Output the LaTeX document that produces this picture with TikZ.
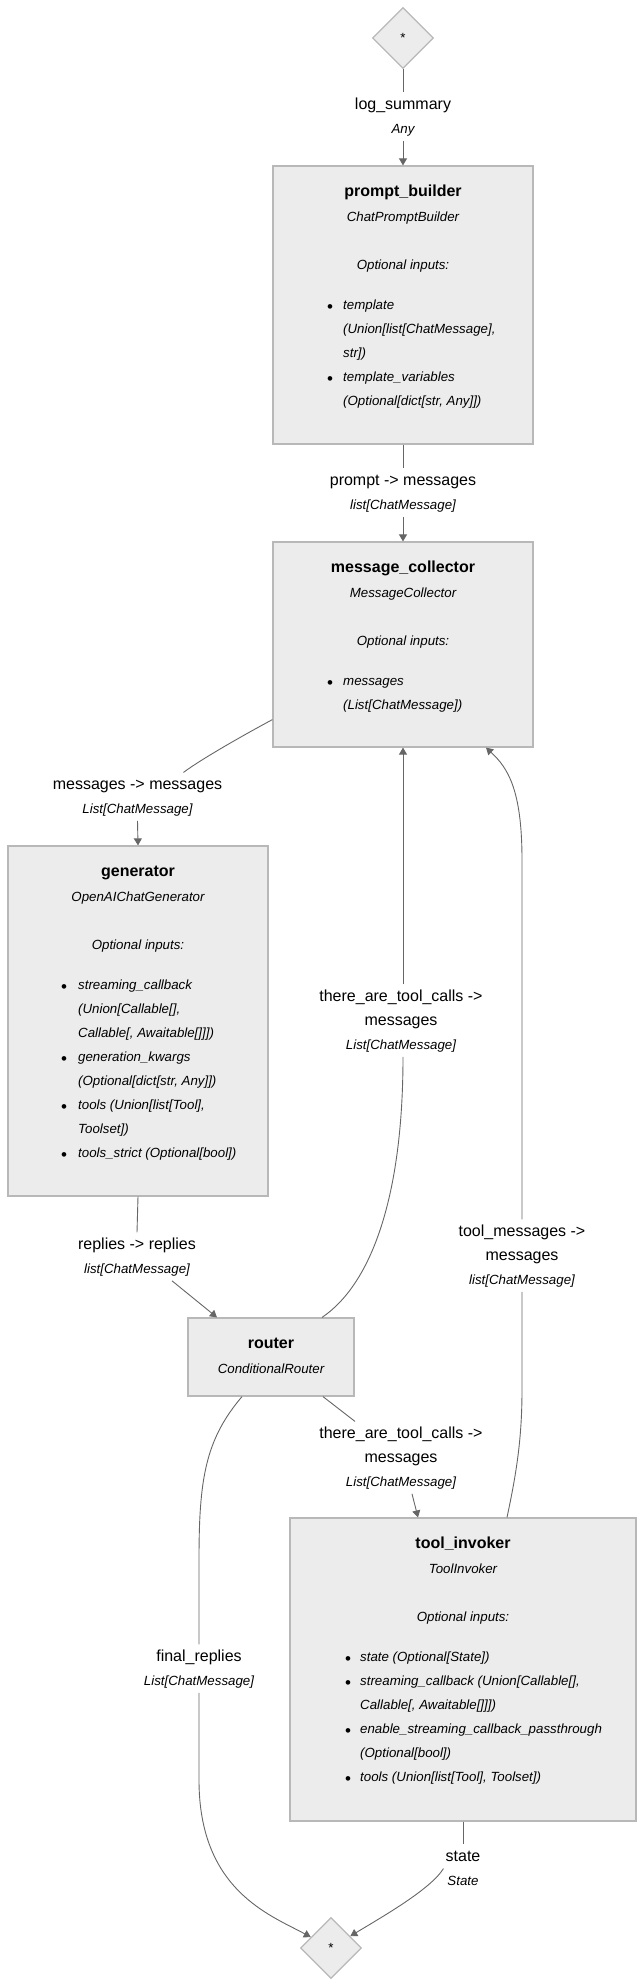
\documentclass[tikz,border=0pt]{standalone}
\usepackage{fontspec}
\setmainfont{Liberation Sans}
\usetikzlibrary{arrows.meta,shapes.geometric}
\definecolor{boxfill}{HTML}{ECECEC}
\definecolor{boxline}{HTML}{B8B8B8}
\definecolor{edgecol}{HTML}{666666}
\newcommand{\edgetype}[1]{{\fontsize{13.3}{24}\selectfont\itshape #1}}

\begin{document}
\begin{tikzpicture}[x=1pt, y=-1pt,
		comp/.style={draw=boxline, fill=boxfill, line width=1.2pt, inner sep=0pt},
		endpt/.style={diamond, draw=boxline, fill=boxfill, line width=1.2pt, inner sep=0pt, minimum width=61pt, minimum height=61pt, font=\fontsize{13.3}{16}\selectfont},
		ctitle/.style={anchor=base, inner sep=0pt, font=\fontsize{16}{24}\selectfont\bfseries},
		cls/.style={anchor=base, inner sep=0pt, font=\fontsize{13.3}{24}\selectfont\itshape},
		inp/.style={anchor=base west, inner sep=0pt, font=\fontsize{13.3}{24}\selectfont\itshape},
		bul/.style={anchor=base, inner sep=0pt, yshift=-2.5pt, font=\fontsize{17}{24}\selectfont},
		elbl/.style={anchor=north, align=center, inner xsep=2pt, inner ysep=0pt, font=\fontsize{16}{24}\selectfont},
		link/.style={draw=edgecol, line width=0.9pt},
		arr/.style={link, -{Triangle[length=7pt, width=8pt]}}]
		\useasboundingbox (0,0) rectangle (644,1986);

		% components
		\node[endpt] (star_in) at (403,38) {*};
		\node[comp, minimum width=260pt, minimum height=278pt] (prompt_builder) at (403,305) {};
		\node[comp, minimum width=260pt, minimum height=205pt] (message_collector) at (403,644.5) {};
		\node[comp, minimum width=260pt, minimum height=350pt] (generator) at (138,1021) {};
		\node[comp, minimum width=166pt, minimum height=78pt] (router) at (271,1357) {};
		\node[comp, minimum width=346pt, minimum height=303pt] (tool_invoker) at (463,1669.5) {};
		\node[endpt] (star_out) at (331,1948) {*};

		% prompt_builder
		\node[ctitle] (pb_title) at (403,196.6) {prompt\_builder};
		\node[cls] (pb_cls) at (403,221.5) {ChatPromptBuilder};
		\node[cls] (pb_opt) at (403,269.5) {Optional inputs:};
		\node[bul] (pb_b1) at (330,309.5) {\textbullet};
		\node[inp] (pb_i1) at (343,309.5) {template};
		\node[inp] (pb_i2) at (343,333.5) {(Union[list[ChatMessage],};
		\node[inp] (pb_i3) at (343,357.5) {str])};
		\node[bul] (pb_b2) at (330,381.5) {\textbullet};
		\node[inp] (pb_i4) at (343,381.5) {template\_variables};
		\node[inp] (pb_i5) at (343,405.5) {(Optional[dict[str, Any]])};

		% message_collector
		\node[ctitle] (mc_title) at (403,572.6) {message\_collector};
		\node[cls] (mc_cls) at (403,597.5) {MessageCollector};
		\node[cls] (mc_opt) at (403,645.5) {Optional inputs:};
		\node[bul] (mc_b1) at (330,685.5) {\textbullet};
		\node[inp] (mc_i1) at (343,685.5) {messages};
		\node[inp] (mc_i2) at (343,709.5) {(List[ChatMessage])};

		% generator
		\node[ctitle] (gen_title) at (138,876.6) {generator};
		\node[cls] (gen_cls) at (138,901.5) {OpenAIChatGenerator};
		\node[cls] (gen_opt) at (138,949.5) {Optional inputs:};
		\node[bul] (gen_b1) at (64,989.5) {\textbullet};
		\node[inp] (gen_i1) at (78,989.5) {streaming\_callback};
		\node[inp] (gen_i2) at (78,1013.5) {(Union[Callable[],};
		\node[inp] (gen_i3) at (78,1037.5) {Callable[, Awaitable[]]])};
		\node[bul] (gen_b2) at (64,1061.5) {\textbullet};
		\node[inp] (gen_i4) at (78,1061.5) {generation\_kwargs};
		\node[inp] (gen_i5) at (78,1085.5) {(Optional[dict[str, Any]])};
		\node[bul] (gen_b3) at (64,1109.5) {\textbullet};
		\node[inp] (gen_i6) at (78,1109.5) {tools (Union[list[Tool],};
		\node[inp] (gen_i7) at (78,1133.5) {Toolset])};
		\node[bul] (gen_b4) at (64,1157.5) {\textbullet};
		\node[inp] (gen_i8) at (78,1157.5) {tools\_strict (Optional[bool])};

		% router
		\node[ctitle] (rt_title) at (271,1348.6) {router};
		\node[cls] (rt_cls) at (271,1373.5) {ConditionalRouter};

		% tool_invoker
		\node[ctitle] (ti_title) at (463,1548.6) {tool\_invoker};
		\node[cls] (ti_cls) at (463,1573.5) {ToolInvoker};
		\node[cls] (ti_opt) at (463,1621.5) {Optional inputs:};
		\node[bul] (ti_b1) at (348,1661.5) {\textbullet};
		\node[inp] (ti_i1) at (360,1661.5) {state (Optional[State])};
		\node[bul] (ti_b2) at (348,1685.5) {\textbullet};
		\node[inp] (ti_i2) at (360,1685.5) {streaming\_callback (Union[Callable[],};
		\node[inp] (ti_i3) at (360,1709.5) {Callable[, Awaitable[]]])};
		\node[bul] (ti_b3) at (348,1733.5) {\textbullet};
		\node[inp] (ti_i4) at (360,1733.5) {enable\_streaming\_callback\_passthrough};
		\node[inp] (ti_i5) at (360,1757.5) {(Optional[bool])};
		\node[bul] (ti_b4) at (348,1781.5) {\textbullet};
		\node[inp] (ti_i6) at (360,1781.5) {tools (Union[list[Tool], Toolset])};

		% edge labels
		\node[elbl] (l_log) at (403,92.4) {\strut log\_summary\\\edgetype{Any}\strut};
		\node[elbl] (l_prompt) at (403,468.4) {\strut prompt -> messages\\\edgetype{list[ChatMessage]}\strut};
		\node[elbl] (l_gen_in) at (137.5,772.4) {\strut messages -> messages\\\edgetype{List[ChatMessage]}\strut};
		\node[elbl] (l_replies) at (137,1232.4) {\strut replies -> replies\\\edgetype{list[ChatMessage]}\strut};
		\node[elbl] (l_loop) at (401,984.4) {\strut there\_are\_tool\_calls ->\\messages\\\edgetype{List[ChatMessage]}\strut};
		\node[elbl] (l_toolmsg) at (522,1219.4) {\strut tool\_messages ->\\messages\\\edgetype{list[ChatMessage]}\strut};
		\node[elbl] (l_tools) at (401,1421.4) {\strut there\_are\_tool\_calls ->\\messages\\\edgetype{List[ChatMessage]}\strut};
		\node[elbl] (l_final) at (199,1644.4) {\strut final\_replies\\\edgetype{List[ChatMessage]}\strut};
		\node[elbl] (l_state) at (463,1844.4) {\strut state\\\edgetype{State}\strut};

		% connectors
		\draw[link] (star_in) -- (l_log);
		\draw[arr] (l_log) -- (prompt_builder);
		\draw[link] (prompt_builder) -- (l_prompt);
		\draw[arr] (l_prompt) -- (message_collector);
		\draw[link] ([yshift=28pt]message_collector.south west) .. controls (240,737) and (200,760) .. ([xshift=46pt]l_gen_in.north);
		\draw[arr] (l_gen_in.south) -- (generator.north);
		\draw[link] (generator.south) -- (l_replies.north);
		\draw[arr] ([xshift=35pt]l_replies.south) -- ([xshift=-54pt]router.north);
		\draw[link] ([xshift=51pt]router.north) .. controls (370,1285) and (403,1200) .. (l_loop.south -| message_collector.south);
		\draw[arr] (l_loop.north -| message_collector.south) -- (message_collector.south);
		\draw[link] ([xshift=44pt]tool_invoker.north) .. controls (516,1475) and (522,1440) .. (522,1390) -- (l_toolmsg.south);
		\draw[arr] (l_toolmsg.north) -- (522,860) .. controls (522,790) and (508,768) .. ([xshift=83pt]message_collector.south);
		\draw[link] ([xshift=52pt]router.south) -- ([xshift=-46pt]l_tools.north);
		\draw[arr] ([xshift=11pt]l_tools.south) -- ([xshift=-45pt]tool_invoker.north);
		\draw[link] ([xshift=-29pt]router.south) .. controls (205,1440) and (199,1480) .. (199,1560) -- (l_final.north);
		\draw[arr] (l_final.south) -- (199,1780) .. controls (199,1890) and (270,1915) .. (star_out);
		\draw[link] (tool_invoker.south) -- (l_state.north);
		\draw[arr] (l_state.west) .. controls (430,1890) and (380,1918) .. (star_out);
\end{tikzpicture}
\end{document}
